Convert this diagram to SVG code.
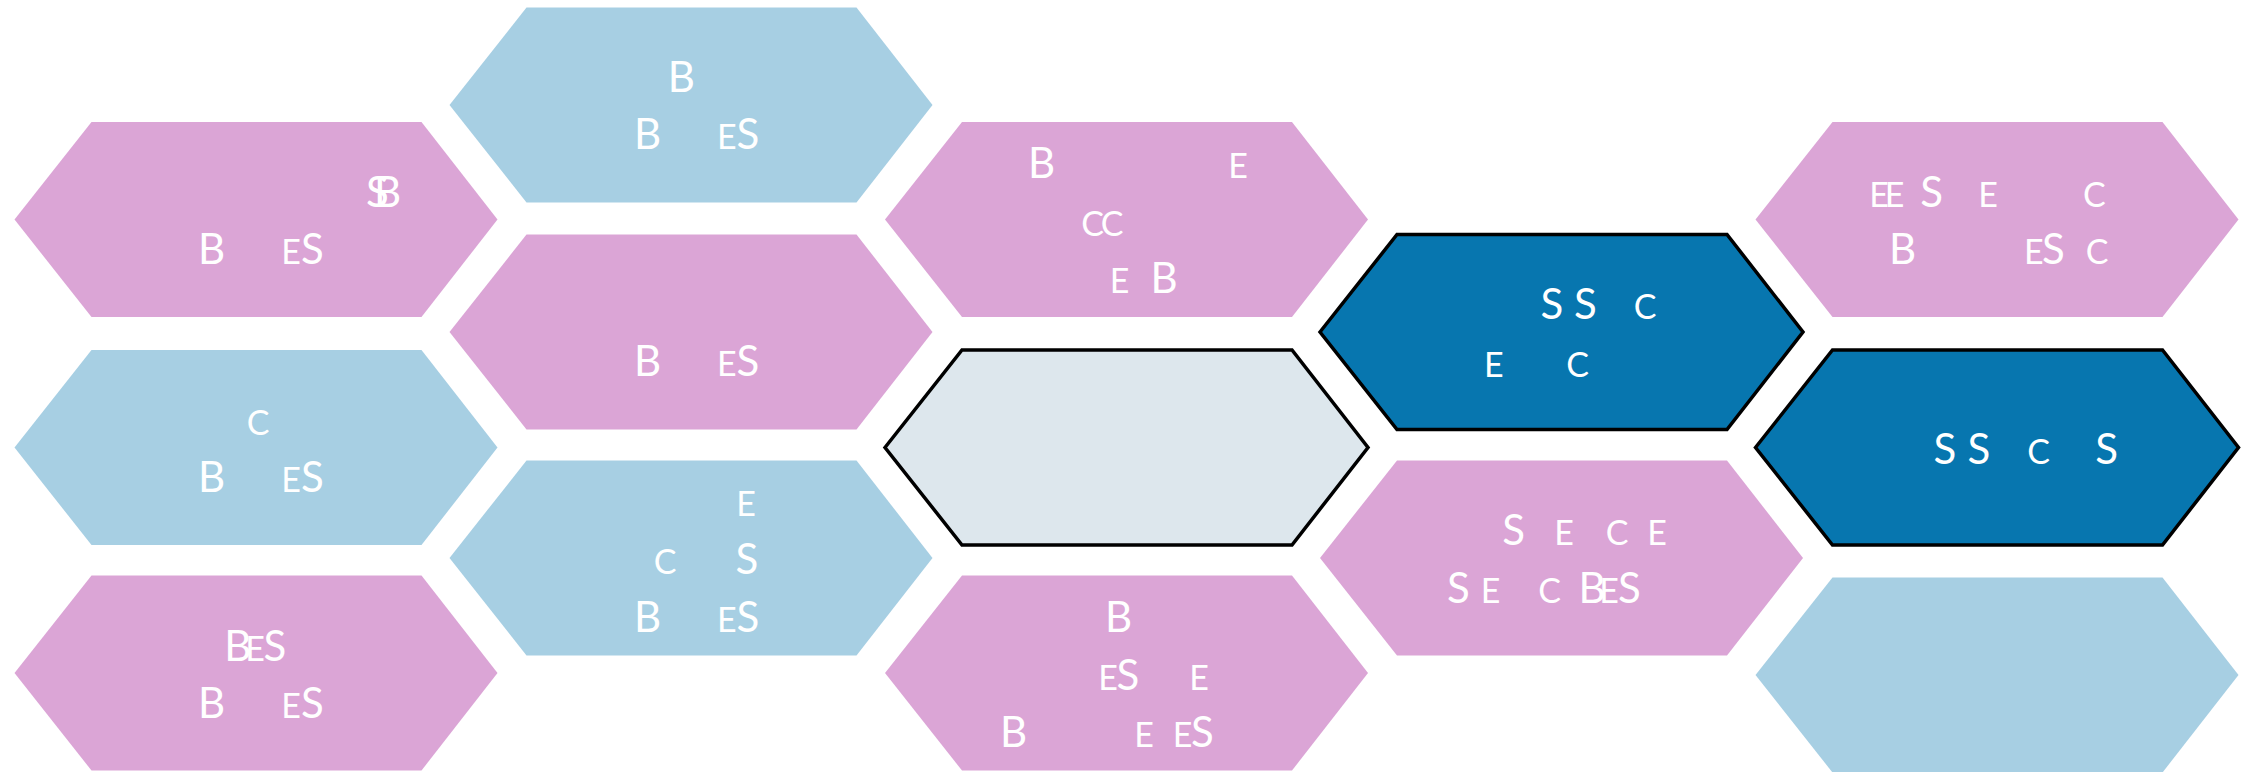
<svg xmlns="http://www.w3.org/2000/svg" xmlns:xlink="http://www.w3.org/1999/xlink" width="2250" height="772" viewBox="0 0 2250 772">
  <style>
    .pink { fill: #DBA5D6; }
    .blue { fill: #A7CFE3; }
    .navy { fill: #0776AF; stroke: #000; stroke-width: 3.5; }
    .grey { fill: #DDE7ED; stroke: #000; stroke-width: 3.5; }
    text { font-family: Lato, "Open Sans", "Liberation Sans", sans-serif; fill: #fff; text-anchor: middle; }
    .b { font-size: 42px; }
    .s { font-size: 34px; }
  </style>
  <defs>
    <!-- elongated hexagon, anchored at its left point -->
    <polygon id="hex" points="0,0 77,-97.5 407,-97.5 483,0 407,97.5 77,97.5"/>
  </defs>

  <rect width="2250" height="772" fill="#fff"/>

  <!-- column 0 -->
  <g id="c0r0">
    <use xlink:href="#hex" href="#hex" class="pink" x="14.5" y="219.5"/>
    <text class="b" x="377.5" y="206.7">S</text>
    <text class="b" x="387.5" y="206.7">B</text>
    <text class="b" x="211.7" y="264">B</text>
    <text class="s" x="291" y="264">E</text>
    <text class="b" x="312.5" y="264">S</text>
  </g>
  <g id="c0r1">
    <use xlink:href="#hex" href="#hex" class="blue" x="14.5" y="447.5"/>
    <text class="s" x="258" y="435.3">C</text>
    <text class="b" x="211.7" y="492.3">B</text>
    <text class="s" x="291" y="492.3">E</text>
    <text class="b" x="312.5" y="492.3">S</text>
  </g>
  <g id="c0r2">
    <use xlink:href="#hex" href="#hex" class="pink" x="14.5" y="673"/>
    <text class="b" x="237.8" y="661">B</text>
    <text class="s" x="255" y="661">E</text>
    <text class="b" x="275" y="661">S</text>
    <text class="b" x="211.7" y="717.7">B</text>
    <text class="s" x="291" y="717.7">E</text>
    <text class="b" x="312.5" y="717.7">S</text>
  </g>

  <!-- column 1 -->
  <g id="c1r0">
    <use xlink:href="#hex" href="#hex" class="blue" x="449.5" y="105"/>
    <text class="b" x="681.4" y="92.3">B</text>
    <text class="b" x="647.7" y="149.3">B</text>
    <text class="s" x="726.8" y="149.3">E</text>
    <text class="b" x="748" y="149.3">S</text>
  </g>
  <g id="c1r1">
    <use xlink:href="#hex" href="#hex" class="pink" x="449.5" y="332"/>
    <text class="b" x="647.7" y="376">B</text>
    <text class="s" x="726.8" y="376">E</text>
    <text class="b" x="748" y="376">S</text>
  </g>
  <g id="c1r2">
    <use xlink:href="#hex" href="#hex" class="blue" x="449.5" y="558"/>
    <text class="s" x="746" y="516">E</text>
    <text class="s" x="665" y="574">C</text>
    <text class="b" x="747" y="574">S</text>
    <text class="b" x="647.7" y="631.7">B</text>
    <text class="s" x="726.8" y="631.7">E</text>
    <text class="b" x="748" y="631.7">S</text>
  </g>

  <!-- column 2 -->
  <g id="c2r0">
    <use xlink:href="#hex" href="#hex" class="pink" x="885" y="219.5"/>
    <text class="b" x="1041.5" y="178.3">B</text>
    <text class="s" x="1238" y="178.3">E</text>
    <text class="s" x="1092.5" y="235.7">C</text>
    <text class="s" x="1112" y="235.7">C</text>
    <text class="s" x="1119.5" y="292.7">E</text>
    <text class="b" x="1164" y="292.7">B</text>
  </g>
  <g id="c2r1">
    <use xlink:href="#hex" href="#hex" class="grey" x="885" y="447.5"/>
  </g>
  <g id="c2r2">
    <use xlink:href="#hex" href="#hex" class="pink" x="885" y="673"/>
    <text class="b" x="1118.5" y="632.3">B</text>
    <text class="s" x="1108" y="690">E</text>
    <text class="b" x="1128" y="690">S</text>
    <text class="s" x="1199" y="690">E</text>
    <text class="b" x="1013.7" y="747.3">B</text>
    <text class="s" x="1144" y="747.3">E</text>
    <text class="s" x="1182.5" y="747.3">E</text>
    <text class="b" x="1202.5" y="747.3">S</text>
  </g>

  <!-- column 3 -->
  <g id="c3r0">
    <use xlink:href="#hex" href="#hex" class="navy" x="1320" y="332"/>
    <text class="b" x="1552" y="319">S</text>
    <text class="b" x="1585.5" y="319">S</text>
    <text class="s" x="1645" y="319">C</text>
    <text class="s" x="1493.7" y="376.7">E</text>
    <text class="s" x="1577.5" y="376.7">C</text>
  </g>
  <g id="c3r1">
    <use xlink:href="#hex" href="#hex" class="pink" x="1320" y="558"/>
    <text class="b" x="1513.7" y="545">S</text>
    <text class="s" x="1564" y="545">E</text>
    <text class="s" x="1617" y="545">C</text>
    <text class="s" x="1657" y="545">E</text>
    <text class="b" x="1458.5" y="603.3">S</text>
    <text class="s" x="1490.5" y="603.3">E</text>
    <text class="s" x="1549.5" y="603.3">C</text>
    <text class="b" x="1592" y="603.3">B</text>
    <text class="s" x="1609" y="603.3">E</text>
    <text class="b" x="1629.3" y="603.3">S</text>
  </g>

  <!-- column 4 -->
  <g id="c4r0">
    <use xlink:href="#hex" href="#hex" class="pink" x="1755.5" y="219.5"/>
    <text class="s" x="1879" y="207.3">E</text>
    <text class="s" x="1894.5" y="207.3">E</text>
    <text class="b" x="1931.7" y="207.3">S</text>
    <text class="s" x="1988" y="207.3">E</text>
    <text class="s" x="2094.3" y="207.3">C</text>
    <text class="b" x="1902.5" y="264">B</text>
    <text class="s" x="2033.7" y="264">E</text>
    <text class="b" x="2053.3" y="264">S</text>
    <text class="s" x="2097" y="264">C</text>
  </g>
  <g id="c4r1">
    <use xlink:href="#hex" href="#hex" class="navy" x="1755.5" y="447.5"/>
    <text class="b" x="1945" y="464">S</text>
    <text class="b" x="1979" y="464">S</text>
    <text class="s" x="2038.7" y="464">C</text>
    <text class="b" x="2106.7" y="464">S</text>
  </g>
  <g id="c4r2">
    <use xlink:href="#hex" href="#hex" class="blue" x="1755.5" y="675"/>
  </g>

  <g id="connectors"/>
</svg>
